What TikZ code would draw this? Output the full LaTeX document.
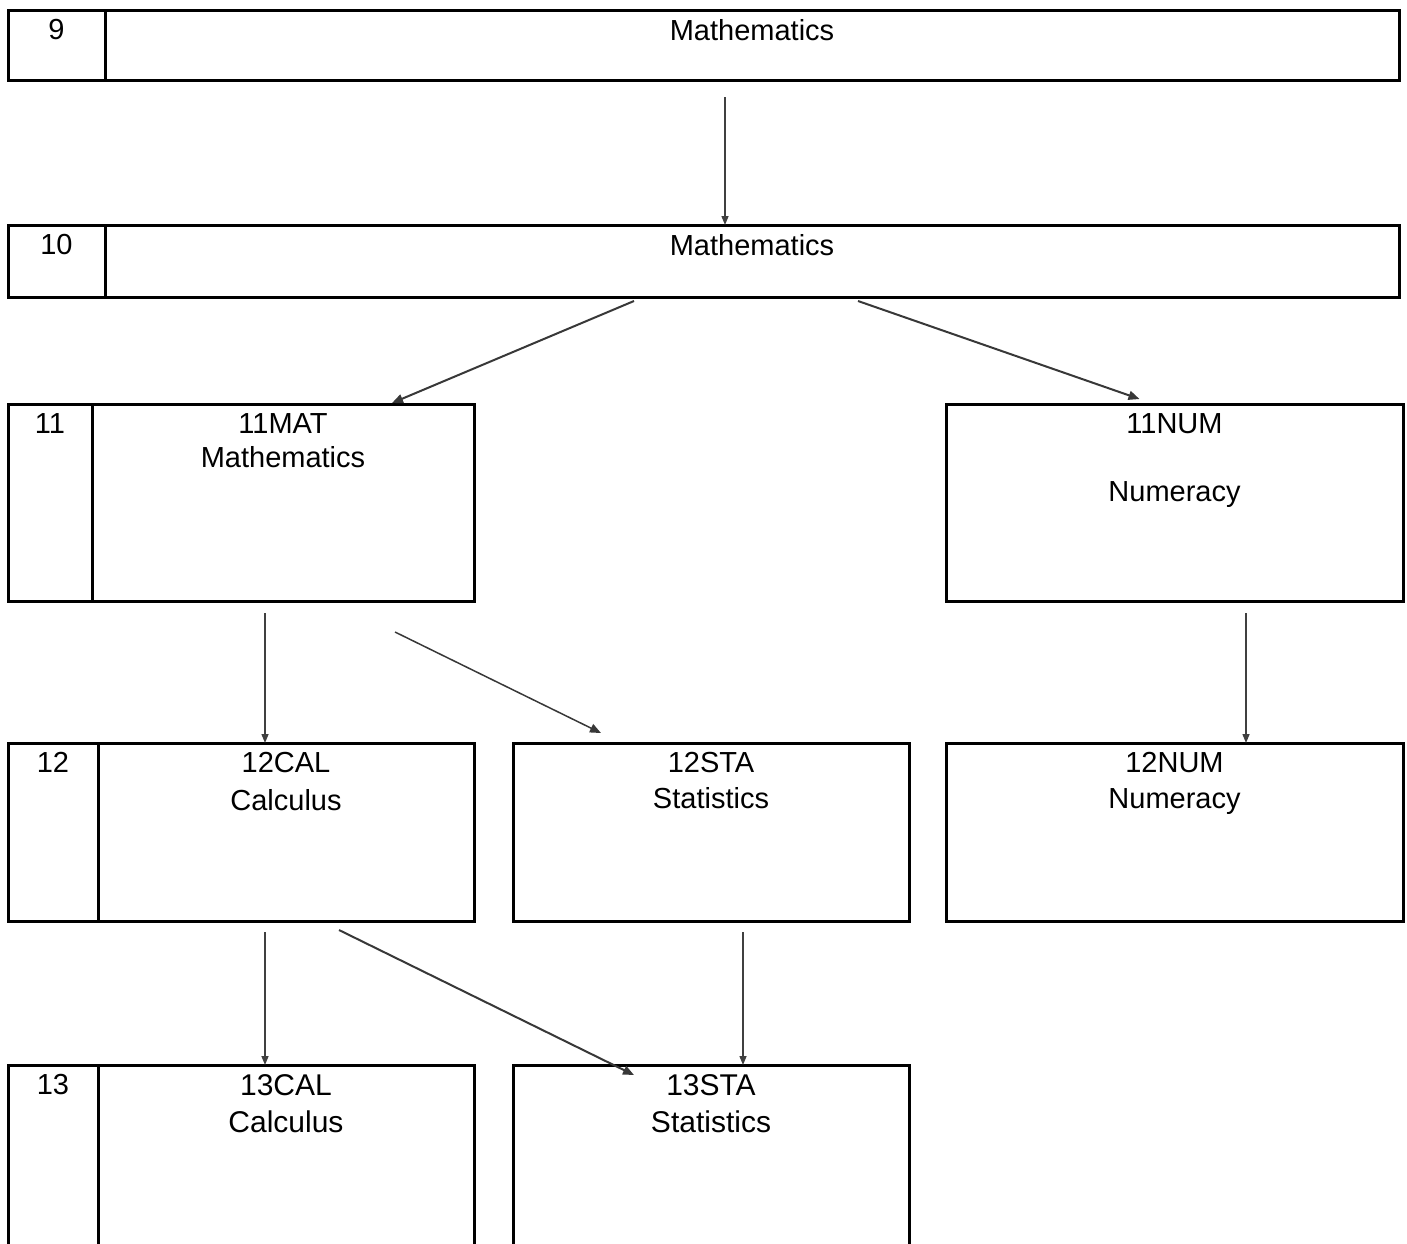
\documentclass[tikz,border=0pt]{standalone}
\usepackage{fontspec}
\setmainfont{Liberation Sans}
\usetikzlibrary{positioning, arrows.meta, calc}

\tikzset{
  cell/.style={draw, rectangle, line width=3pt, anchor=north west, inner sep=0pt, outer sep=0pt},
  txt/.style={anchor=north, inner sep=0pt, align=center, font=\fontsize{29pt}{36pt}\selectfont},
  link/.style={draw=black!78, line width=2pt, -{Triangle[length=11pt, width=9pt]}},
  vlink/.style={draw=black!75, line width=1.4pt, -{Triangle[length=9pt, width=7pt]}}
}

\begin{document}
\begin{tikzpicture}[x=1pt, y=-1pt]
      \useasboundingbox (0,0) rectangle (1407,1243);
      \clip (0,0) rectangle (1407,1243);

      % Year 9
      \node[cell, minimum width=97pt, minimum height=70pt] (y9) at (8,10) {};
      \node[cell, minimum width=1294pt, minimum height=70pt] (m9) at (105,10) {};
      \node[txt, below=9pt of y9.north] (y9t) {9};
      \node[txt, below=9pt of m9.north] (m9t) {Mathematics};

      % Year 10
      \node[cell, minimum width=97pt, minimum height=72pt] (y10) at (8,225) {};
      \node[cell, minimum width=1294pt, minimum height=72pt] (m10) at (105,225) {};
      \node[txt, below=9pt of y10.north] (y10t) {10};
      \node[txt, below=9pt of m10.north] (m10t) {Mathematics};

      % Year 11
      \node[cell, minimum width=84pt, minimum height=197pt] (y11) at (8,404) {};
      \node[cell, minimum width=382pt, minimum height=197pt] (m11) at (92,404) {};
      \node[cell, minimum width=457pt, minimum height=197pt] (n11) at (946,404) {};
      \node[txt, below=9pt of y11.north] (y11t) {11};
      \node[txt, below=9pt of m11.north, font=\fontsize{29pt}{34pt}\selectfont] (m11t) {11MAT\\Mathematics};
      \node[txt, below=9pt of n11.north, font=\fontsize{29pt}{34pt}\selectfont] (n11t) {11NUM\\[34pt]Numeracy};

      % Year 12
      \node[cell, minimum width=90pt, minimum height=178pt] (y12) at (8,743) {};
      \node[cell, minimum width=376pt, minimum height=178pt] (c12) at (98,743) {};
      \node[cell, minimum width=396pt, minimum height=178pt] (s12) at (513,743) {};
      \node[cell, minimum width=457pt, minimum height=178pt] (n12) at (946,743) {};
      \node[txt, below=9pt of y12.north] (y12t) {12};
      \node[txt, below=9pt of c12.north, font=\fontsize{29pt}{38pt}\selectfont] (c12t) {12CAL\\Calculus};
      \node[txt, below=9pt of s12.north] (s12t) {12STA\\Statistics};
      \node[txt, below=9pt of n12.north] (n12t) {12NUM\\Numeracy};

      % Year 13
      \node[cell, minimum width=90pt, minimum height=240pt] (y13) at (8,1065) {};
      \node[cell, minimum width=376pt, minimum height=240pt] (c13) at (98,1065) {};
      \node[cell, minimum width=396pt, minimum height=240pt] (s13) at (513,1065) {};
      \node[txt, below=9pt of y13.north] (y13t) {13};
      \node[txt, below=9pt of c13.north, font=\fontsize{30pt}{37pt}\selectfont] (c13t) {13CAL\\Calculus};
      \node[txt, below=9pt of s13.north, font=\fontsize{30pt}{37pt}\selectfont] (s13t) {13STA\\Statistics};

      % Pathways
      \draw[vlink] ([xshift=-27pt, yshift=-17pt]m9.south) -- ([xshift=-27pt]m10.north);
      \draw[link] ([xshift=-118pt, yshift=-4pt]m10.south) -- ([xshift=109pt, yshift=1pt]m11.north);
      \draw[link] ([xshift=106pt, yshift=-4pt]m10.south) -- ([xshift=-35pt, yshift=5pt]n11.north);
      \draw[vlink] ([xshift=-18pt, yshift=-12pt]m11.south) -- ([xshift=-21pt]c12.north);
      \draw[link, line width=1.5pt] ([xshift=112pt, yshift=-31pt]m11.south) -- ([xshift=-110pt, yshift=10pt]s12.north);
      \draw[vlink] ([xshift=71.5pt, yshift=-12pt]n11.south) -- ([xshift=71.5pt]n12.north);
      \draw[vlink] ([xshift=-21pt, yshift=-11pt]c12.south) -- ([xshift=-21pt]c13.north);
      \draw[link] ([xshift=53pt, yshift=-9pt]c12.south) -- ([xshift=-77pt, yshift=-10pt]s13.north);
      \draw[vlink] ([xshift=32pt, yshift=-11pt]s12.south) -- ([xshift=32pt]s13.north);
\end{tikzpicture}
\end{document}
